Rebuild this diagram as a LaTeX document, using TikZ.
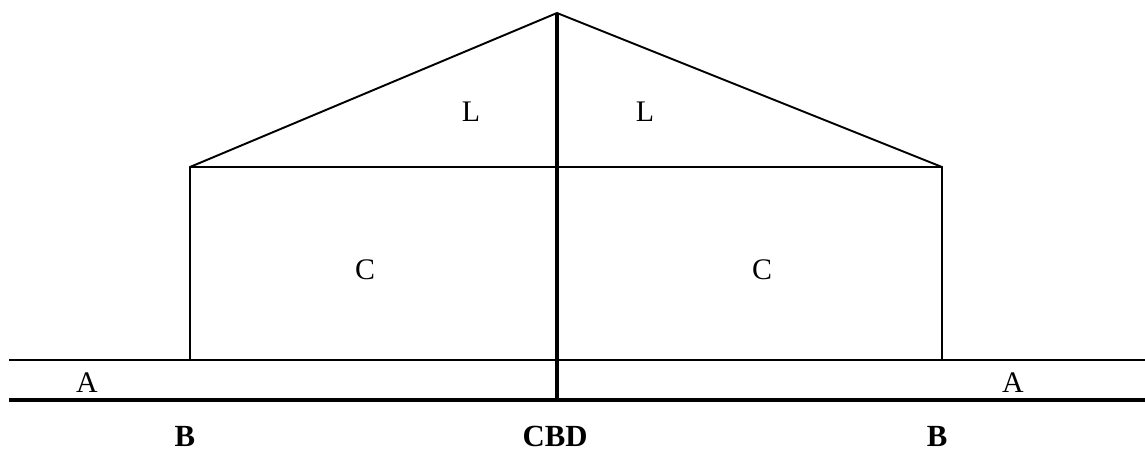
\documentclass[tikz,border=0pt]{standalone}
\usepackage{fontspec}
\setmainfont{Liberation Serif}
\usetikzlibrary{positioning}

\begin{document}
\begin{tikzpicture}[x=0.02cm, y=-0.02cm,
    every node/.append style={font=\fontsize{17}{19}\selectfont, inner sep=0pt},
    thin line/.style={line width=1.1pt},
    thick line/.style={line width=2.6pt},
    zone/.style={},
    place/.style={font=\fontsize{17.5}{19}\selectfont\bfseries, text depth=0pt, anchor=base}]
   \useasboundingbox (0,0) rectangle (1145,453);
   % corners of the model
   \coordinate (apex)   at (557,13);
   \coordinate (ltop)   at (190,167);
   \coordinate (rtop)   at (942,167);
   \coordinate (lfoot)  at (190,360);
   \coordinate (rfoot)  at (942,360);
   \coordinate (west)   at (9,360);
   \coordinate (east)   at (1145,360);
   \coordinate (wbase)  at (9,400);
   \coordinate (ebase)  at (1145,400);
   \coordinate (cbase)  at (557,400);
   % ground lines
   \draw[thin line] (west) -- (east);
   \draw[thick line] (wbase) -- (ebase);
   % the house
   \draw[thin line] (lfoot) -- (ltop) -- (apex) -- (rtop) -- (rfoot);
   \draw[thin line] (ltop) -- (rtop);
   \draw[thick line] (apex) -- (cbase);
   % zones
   \node[zone] (L1) at (471,112) {L};
   \node[zone] (L2) at (645,112) {L};
   \node[zone] (C1) at (365,270) {C};
   \node[zone] (C2) at (762,270) {C};
   \node[zone] (A1) at (87,383)  {A};
   \node[zone] (A2) at (1013,383) {A};
   \node[place] (B1)  at (185,446) {B};
   \node[place] (CBD) at (555,446) {CBD};
   \node[place] (B2)  at (937,446) {B};
\end{tikzpicture}
\end{document}
